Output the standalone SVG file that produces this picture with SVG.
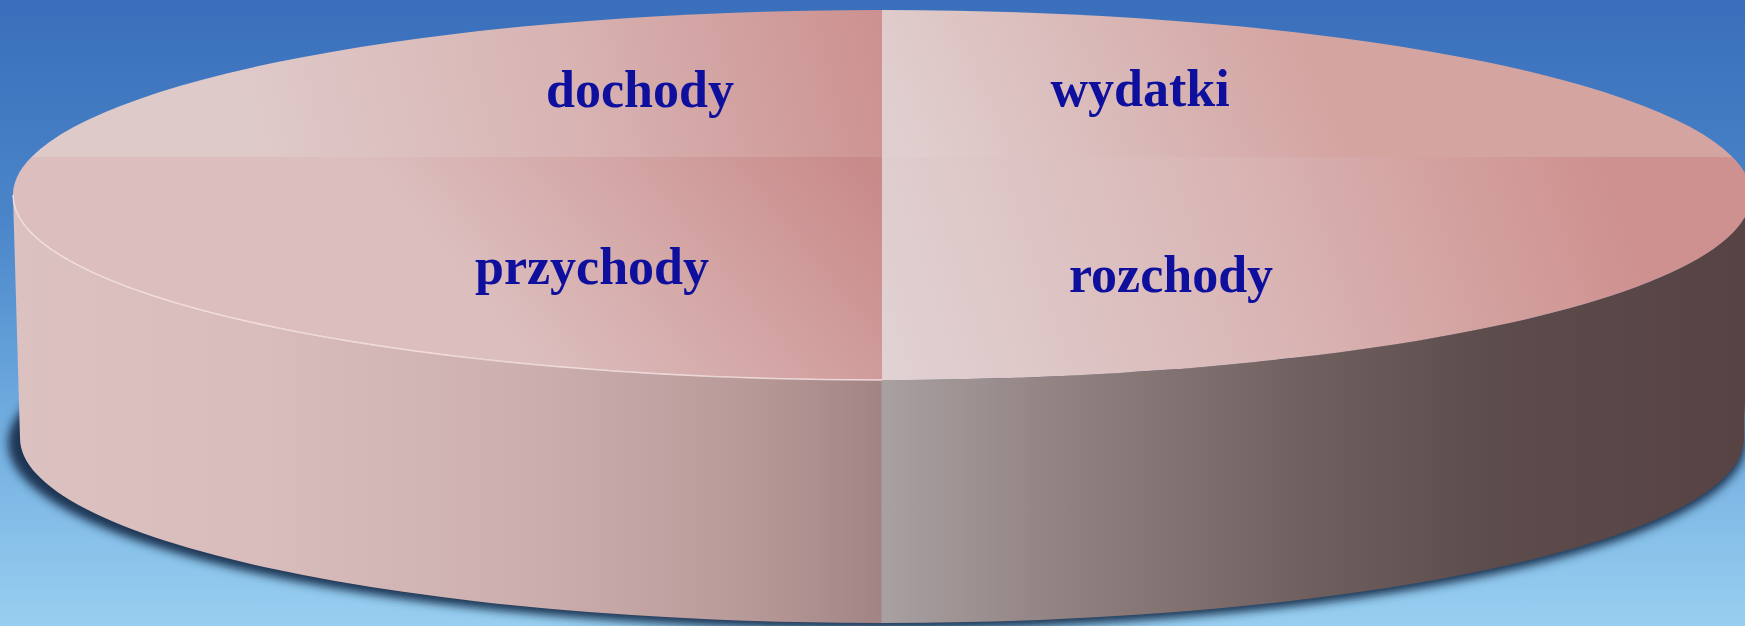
<svg xmlns="http://www.w3.org/2000/svg" width="1745" height="626" viewBox="0 0 1745 626">
  <style>
    .lbl { font-family: "Liberation Serif", "Times New Roman", serif; font-weight: bold; font-size: 52px; fill: #0f0f9e; text-anchor: middle; }
  </style>
  <defs>
    <linearGradient id="bg" x1="0" y1="0" x2="0" y2="1">
      <stop offset="0" stop-color="#3a6fbb"/>
      <stop offset="0.35" stop-color="#4a85c9"/>
      <stop offset="0.65" stop-color="#6eaade"/>
      <stop offset="1" stop-color="#98cff0"/>
    </linearGradient>
    <linearGradient id="gTL" gradientUnits="userSpaceOnUse" x1="250" y1="160" x2="880" y2="5">
      <stop offset="0" stop-color="#dfcaca"/>
      <stop offset="0.5" stop-color="#d8b4b3"/>
      <stop offset="1" stop-color="#cc9190"/>
    </linearGradient>
    <linearGradient id="gTR" gradientUnits="userSpaceOnUse" x1="910" y1="160" x2="1280" y2="0">
      <stop offset="0" stop-color="#e1cfcf"/>
      <stop offset="0.55" stop-color="#d9b8b7"/>
      <stop offset="1" stop-color="#d4a4a1"/>
    </linearGradient>
    <linearGradient id="gBL" gradientUnits="userSpaceOnUse" x1="860" y1="157" x2="560" y2="400">
      <stop offset="0" stop-color="#c98a8a"/>
      <stop offset="0.55" stop-color="#d4a8a7"/>
      <stop offset="1" stop-color="#dcbebe"/>
    </linearGradient>
    <linearGradient id="gBR" gradientUnits="userSpaceOnUse" x1="900" y1="380" x2="1600" y2="150">
      <stop offset="0" stop-color="#e1d1d2"/>
      <stop offset="0.5" stop-color="#d9b6b5"/>
      <stop offset="1" stop-color="#ce918f"/>
    </linearGradient>
    <linearGradient id="gSide" gradientUnits="userSpaceOnUse" x1="13" y1="0" x2="1751" y2="0">
      <stop offset="0" stop-color="#dcc1c1"/>
      <stop offset="0.15" stop-color="#d8bcbc"/>
      <stop offset="0.3" stop-color="#ccaeae"/>
      <stop offset="0.42" stop-color="#b89b99"/>
      <stop offset="0.4995" stop-color="#a28484"/>
      <stop offset="0.5" stop-color="#a9a0a1"/>
      <stop offset="0.62" stop-color="#8e7d7d"/>
      <stop offset="0.75" stop-color="#6e5e5e"/>
      <stop offset="0.85" stop-color="#5d4c4c"/>
      <stop offset="1" stop-color="#574244"/>
    </linearGradient>
    <filter id="blur" x="-5%" y="-20%" width="110%" height="140%">
      <feGaussianBlur stdDeviation="5"/>
    </filter>
  </defs>

  <rect x="0" y="0" width="1745" height="626" fill="url(#bg)"/>

  <g id="shadow">
    <ellipse cx="877" cy="443" rx="869" ry="186" fill="#1d3652" filter="url(#blur)"/>
  </g>

  <g id="side">
    <path d="M13,195 A869 185 0 0 0 882,380 A869 185 0 0 0 1751,195 L1744,438 A862 185 0 0 1 882,623 A862 185 0 0 1 20,438 Z" fill="url(#gSide)"/>
  </g>

  <g id="dochody">
    <path d="M882,157 L31.5,157 A869 185 0 0 1 882,10 Z" fill="url(#gTL)"/>
    <text class="lbl" x="640" y="107">dochody</text>
  </g>
  <g id="wydatki">
    <path d="M882,157 L882,10 A869 185 0 0 1 1732.5,157 Z" fill="url(#gTR)"/>
    <text class="lbl" x="1140" y="106">wydatki</text>
  </g>
  <g id="rozchody">
    <path d="M882,157 L1732.5,157 A869 185 0 0 1 882,380 Z" fill="url(#gBR)"/>
    <text class="lbl" x="1171" y="292">rozchody</text>
  </g>
  <g id="przychody">
    <path d="M882,157 L882,380 A869 185 0 0 1 31.5,157 Z" fill="url(#gBL)"/>
    <text class="lbl" x="592" y="284">przychody</text>
  </g>

  <g id="highlight">
    <path d="M13,195 A869 185 0 0 0 882,380" fill="none" stroke="#fbe9e9" stroke-width="1.5" opacity="0.8"/>
  </g>

  <g id="connectors"/>
</svg>
